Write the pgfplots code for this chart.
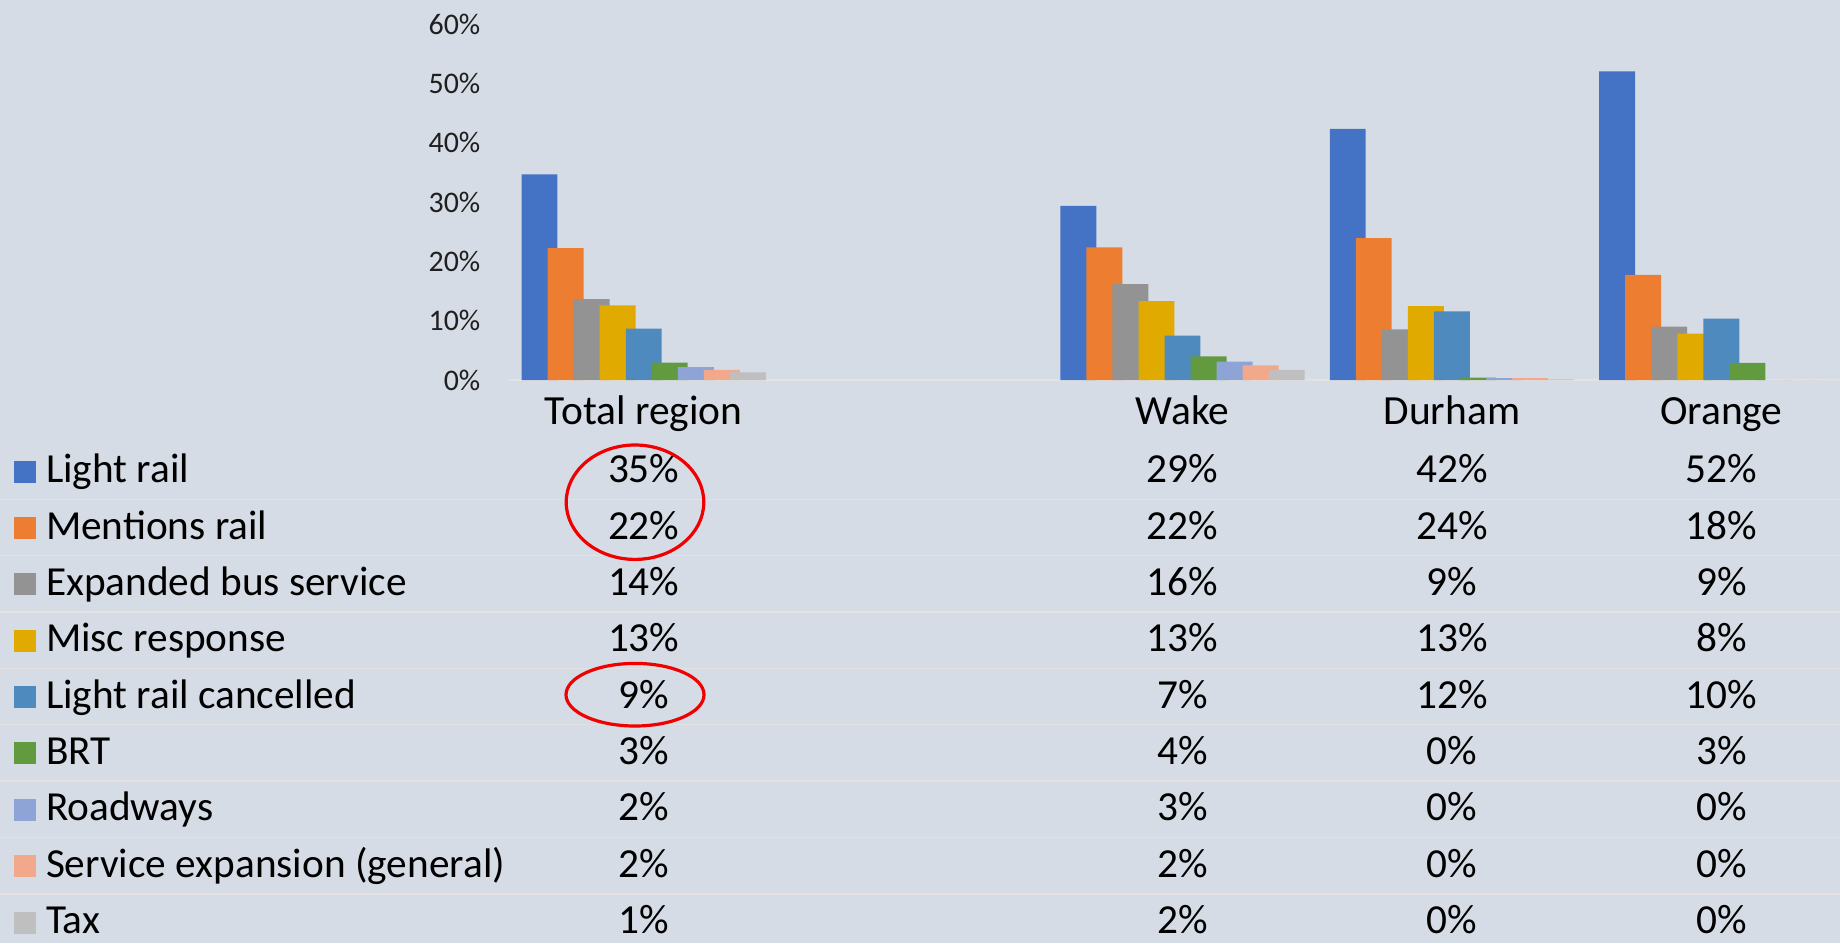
\documentclass[border=0pt]{standalone}
\usepackage{fontspec}
\setmainfont{Carlito}
\usepackage{pgfplots}
\pgfplotsset{compat=1.18}
\definecolor{bgcol}{HTML}{D6DCE5}
\definecolor{sepcol}{HTML}{E3E1E1}
\definecolor{axcol}{HTML}{E2E2E2}
\definecolor{c1}{HTML}{4472C4}
\definecolor{c2}{HTML}{ED7D31}
\definecolor{c3}{HTML}{939393}
\definecolor{c4}{HTML}{E1AA00}
\definecolor{c5}{HTML}{4E8ABE}
\definecolor{c6}{HTML}{629B3F}
\definecolor{c7}{HTML}{8FA4D6}
\definecolor{c8}{HTML}{F2A88B}
\definecolor{c9}{HTML}{BFBFBF}
\definecolor{ringcol}{HTML}{F00000}
\newcommand{\tickfont}{\fontsize{8.5}{10.2}\selectfont}
\newcommand{\catfont}{\fontsize{11.8}{14.1}\selectfont}
\newcommand{\tabfont}{\fontsize{11.75}{14.1}\selectfont}
\pgfplotsset{sq/.style={legend image code/.code={\fill[#1] (0mm,0mm) rectangle (2.2mm,2.2mm);}}}
\begin{document}
\begin{tikzpicture}
\useasboundingbox (0,0) rectangle (184mm,94.3mm);
\fill[bgcol] (0,0) rectangle (184mm,94.3mm);
% row separators of the data table
\foreach \r in {0,...,7}{
  \draw[sepcol, line width=0.15mm] (0mm,{44.37mm-\r*5.635mm}) -- (184mm,{44.37mm-\r*5.635mm});
}
\begin{axis}[
  at={(64.37mm,56.3mm)}, anchor=origin,
  x=26.94mm, y=0.5933mm,
  xmin=-0.5, xmax=4.44, ymin=0, ymax=60,
  ybar, bar width=3.59mm,
  axis line style={draw=none},
  major tick length=0pt,
  clip=false,
  ytick={0,10,...,60},
  /pgf/number format/assume math mode=true,
  yticklabel={\pgfmathprintnumber{\tick}\%},
  yticklabel style={font=\tickfont, text=black!88, anchor=east, inner sep=0pt, xshift=-2.8mm},
  xtick={0,2,3,4},
  xticklabels={Total region,Wake,Durham,Orange},
  xticklabel style={font=\catfont, text=black, anchor=base, inner sep=0pt, yshift=-4.4mm},
  legend cell align=left,
  legend style={at={(axis cs:-2.3374,-10.568)}, anchor=north west, draw=none, fill=none,
    inner sep=0pt, outer sep=0pt, row sep=0pt, column sep=1.0mm, font=\tabfont,
    nodes={inner sep=0pt, text height=4.0mm, text depth=1.635mm},
    cells={anchor=base west}},
]
\draw[axcol, line width=0.15mm] (axis cs:-0.5,0) -- (axis cs:4.44,0);
\addplot[fill=c1, draw=none, bar shift=-10.42mm, sq=c1] coordinates {(0,34.67) (2,29.33) (3,42.31) (4,52.03)};
\addlegendentry{Light rail}
\addplot[fill=c2, draw=none, bar shift=-7.815mm, sq=c2] coordinates {(0,22.25) (2,22.36) (3,23.93) (4,17.70)};
\addlegendentry{Mentions rail}
\addplot[fill=c3, draw=none, bar shift=-5.21mm, sq=c3] coordinates {(0,13.65) (2,16.18) (3,8.54) (4,8.99)};
\addlegendentry{Expanded bus service}
\addplot[fill=c4, draw=none, bar shift=-2.605mm, sq=c4] coordinates {(0,12.59) (2,13.31) (3,12.47) (4,7.80)};
\addlegendentry{Misc response}
\addplot[fill=c5, draw=none, bar shift=0mm, sq=c5] coordinates {(0,8.65) (2,7.47) (3,11.57) (4,10.33)};
\addlegendentry{Light rail cancelled}
\addplot[fill=c6, draw=none, bar shift=2.605mm, sq=c6] coordinates {(0,2.92) (2,3.99) (3,0.39) (4,2.87)};
\addlegendentry{BRT}
\addplot[fill=c7, draw=none, bar shift=5.21mm, sq=c7] coordinates {(0,2.19) (2,3.09) (3,0.30) (4,0)};
\addlegendentry{Roadways}
\addplot[fill=c8, draw=none, bar shift=7.815mm, sq=c8] coordinates {(0,1.69) (2,2.47) (3,0.30) (4,0)};
\addlegendentry{Service expansion (general)}
\addplot[fill=c9, draw=none, bar shift=10.42mm, sq=c9] coordinates {(0,1.29) (2,1.69) (3,0.10) (4,0)};
\addlegendentry{Tax}
\end{axis}
% data table values
\foreach \a/\b/\c/\d [count=\r from 0] in {35/29/42/52, 22/22/24/18, 14/16/9/9, 13/13/13/8, 9/7/12/10, 3/4/0/3, 2/3/0/0, 2/2/0/0, 1/2/0/0}{
  \node[font=\tabfont, anchor=base, inner sep=0pt] at (64.37mm,{46.03mm-\r*5.635mm}) {\a\%};
  \node[font=\tabfont, anchor=base, inner sep=0pt] at (118.25mm,{46.03mm-\r*5.635mm}) {\b\%};
  \node[font=\tabfont, anchor=base, inner sep=0pt] at (145.19mm,{46.03mm-\r*5.635mm}) {\c\%};
  \node[font=\tabfont, anchor=base, inner sep=0pt] at (172.13mm,{46.03mm-\r*5.635mm}) {\d\%};
}
% red highlight rings
\draw[ringcol, line width=0.32mm] (63.5mm,44.08mm) ellipse [x radius=6.88mm, y radius=5.72mm];
\draw[ringcol, line width=0.32mm] (63.5mm,24.83mm) ellipse [x radius=6.9mm, y radius=3.13mm];
\end{tikzpicture}
\end{document}
